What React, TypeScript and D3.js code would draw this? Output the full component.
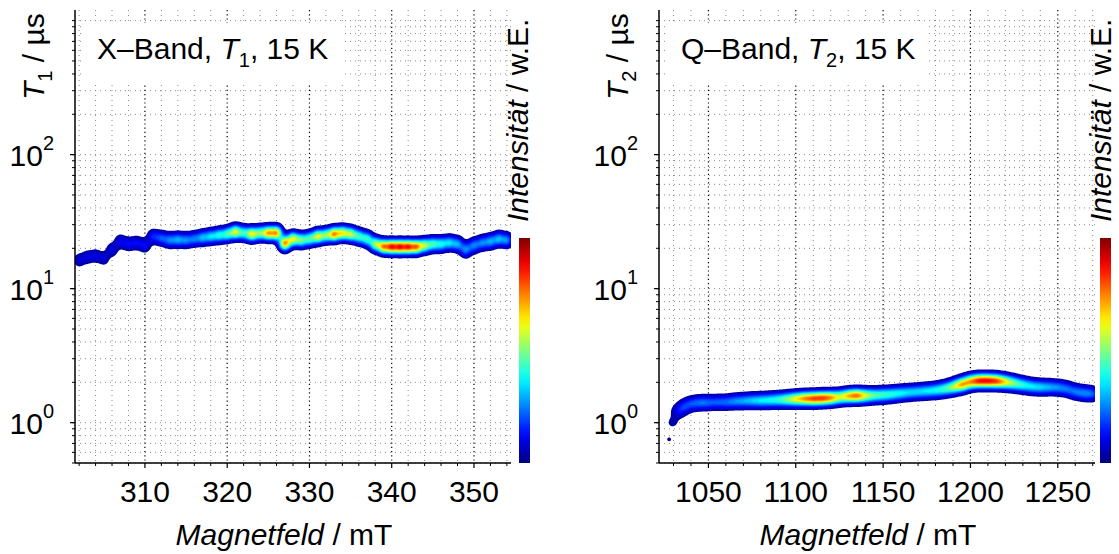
import React, { useMemo } from "react";
import * as d3 from "d3";

const FONT = "'Liberation Sans', Arial, Helvetica, sans-serif";
const W = 1119;
const H = 554;

// ---------- X-Band, T1 (left panel) ----------
const xBandField = [302, 303, 304, 305, 306, 307, 308, 309, 310, 311, 312, 313, 314, 315, 316, 317, 318, 319, 320, 321, 322, 323, 324, 325, 326, 327, 328, 329, 330, 331, 332, 333, 334, 335, 336, 337, 338, 339, 340, 341, 342, 343, 344, 345, 346, 347, 348, 349, 350, 351, 352, 353, 354];
const xBandT1 = [16.3, 17.2, 17.6, 16.8, 19.5, 22.5, 21.5, 22.0, 21.0, 24.5, 23.8, 23.0, 23.2, 23.0, 23.5, 24.0, 24.5, 25.0, 25.5, 26.5, 26.0, 25.5, 26.0, 26.0, 26.0, 21.8, 23.5, 23.0, 23.5, 24.5, 25.0, 25.5, 26.0, 25.5, 24.5, 23.5, 21.5, 20.6, 20.5, 20.5, 20.5, 20.5, 21.0, 21.5, 21.5, 22.0, 21.5, 19.5, 21.0, 22.0, 22.5, 23.5, 23.0];
const xBandIntensity = [0.12, 0.12, 0.12, 0.12, 0.14, 0.15, 0.15, 0.15, 0.16, 0.2, 0.25, 0.3, 0.34, 0.3, 0.28, 0.36, 0.4, 0.45, 0.5, 0.7, 0.45, 0.72, 0.55, 0.8, 0.85, 0.9, 0.7, 0.55, 0.5, 0.7, 0.55, 0.85, 0.7, 0.65, 0.5, 0.5, 0.62, 0.85, 0.97, 0.97, 0.95, 0.88, 0.62, 0.5, 0.45, 0.4, 0.36, 0.32, 0.3, 0.3, 0.34, 0.36, 0.32];
const xBandTicks = [310, 320, 330, 340, 350];

// ---------- Q-Band, T2 (right panel) ----------
const qBandField = [1027.5, 1029.5, 1032.5, 1035, 1038, 1042, 1046, 1050, 1055, 1060, 1065, 1070, 1075, 1080, 1085, 1090, 1095, 1100, 1105, 1110, 1115, 1120, 1125, 1130, 1135, 1140, 1145, 1150, 1155, 1160, 1165, 1170, 1175, 1180, 1185, 1190, 1195, 1200, 1205, 1210, 1215, 1220, 1225, 1230, 1235, 1240, 1245, 1250, 1255, 1260, 1265, 1270];
const qBandT2 = [0.75, 1.0, 1.2, 1.28, 1.36, 1.4, 1.41, 1.41, 1.42, 1.42, 1.44, 1.45, 1.46, 1.46, 1.47, 1.48, 1.49, 1.5, 1.51, 1.51, 1.52, 1.53, 1.55, 1.58, 1.59, 1.59, 1.6, 1.61, 1.63, 1.66, 1.68, 1.7, 1.72, 1.74, 1.78, 1.84, 1.92, 2.02, 2.05, 2.05, 2.04, 2.01, 1.96, 1.91, 1.86, 1.84, 1.84, 1.83, 1.79, 1.7, 1.66, 1.64];
const qBandIntensity = [0.065, 0.08, 0.12, 0.15, 0.18, 0.2, 0.22, 0.22, 0.25, 0.25, 0.3, 0.32, 0.36, 0.4, 0.42, 0.45, 0.55, 0.68, 0.8, 0.88, 0.9, 0.82, 0.6, 0.75, 0.88, 0.62, 0.5, 0.48, 0.45, 0.42, 0.38, 0.38, 0.4, 0.42, 0.48, 0.6, 0.85, 0.8, 0.95, 0.95, 0.9, 0.7, 0.55, 0.45, 0.4, 0.38, 0.33, 0.3, 0.28, 0.28, 0.3, 0.28];
const qBandTicks = [1050, 1100, 1150, 1200, 1250];

const yTickExponents = [0, 1, 2];

function jet(t: number): string {
  const c = (v: number) => Math.max(0, Math.min(1, v));
  const r = c(1.5 - Math.abs(4 * t - 3));
  const g = c(1.5 - Math.abs(4 * t - 2));
  const b = c(1.5 - Math.abs(4 * t - 1));
  return d3.rgb(r * 255, g * 255, b * 255).formatHex();
}

const yScale = d3.scaleLog().domain([0.5, 1200]).range([463, 10]);

type PanelProps = {
  id: string;
  xDomain: [number, number];
  xRange: [number, number];
  ticks: number[];
  minorStep: number;
  field: number[];
  tv: number[];
  inten: number[];
  sx: number;
  sy: number;
  band: string;
  sub: string;
  cbX: number;
  cbLabelX: number;
};

function Panel(p: PanelProps) {
  const xs = useMemo(() => d3.scaleLinear().domain(p.xDomain).range(p.xRange), [p.xDomain, p.xRange]);
  const ys = yScale;
  const [ax, ar] = p.xRange;
  const [yb, yt] = ys.range();

  const dens = useMemo(() => {
    const gx0 = Math.round(ax);
    const gw = Math.round(ar - ax);
    const pts = p.field.map((f, i) => ({ x: xs(f) - gx0, y: ys(p.tv[i]), w: p.inten[i] }));
    const gy0 = Math.floor((d3.min(pts, (q) => q.y) as number) - 30);
    const gy1 = Math.ceil((d3.max(pts, (q) => q.y) as number) + 30);
    const gh = gy1 - gy0;
    const grid = new Float64Array(gw * gh);
    for (const q of pts) {
      const cy = q.y - gy0;
      const j0 = Math.max(0, Math.floor(cy - 4 * p.sy));
      const j1 = Math.min(gh - 1, Math.ceil(cy + 4 * p.sy));
      const i0 = Math.max(0, Math.floor(q.x - 4 * p.sx));
      const i1 = Math.min(gw - 1, Math.ceil(q.x + 4 * p.sx));
      for (let j = j0; j <= j1; j++) {
        const dy = j + 0.5 - cy;
        const ey = Math.exp((-dy * dy) / (2 * p.sy * p.sy));
        for (let i = i0; i <= i1; i++) {
          const dx = i + 0.5 - q.x;
          grid[j * gw + i] += q.w * ey * Math.exp((-dx * dx) / (2 * p.sx * p.sx));
        }
      }
    }
    const gmax = d3.max(grid) as number;
    const k = ((d3.max(p.inten) as number) * 0.95) / gmax;
    const vals = Array.from(grid, (v) => v * k);
    const levels = d3.range(0.04, 1.0, 0.03);
    const cs = d3.contours().size([gw, gh]).thresholds(levels)(vals);
    return { cs, gx0, gy0 };
  }, [p.field, p.tv, p.inten, xs]);

  const path = d3.geoPath();

  const minorX = d3.range(Math.ceil(p.xDomain[0] / p.minorStep) * p.minorStep, p.xDomain[1], p.minorStep).filter(
    (v) => !p.ticks.some((t) => Math.abs(t - v) < 1e-6)
  );
  const yMinor: number[] = [];
  for (let e = -1; e <= 3; e++) {
    for (let m = 1; m <= 9; m++) {
      const v = m * Math.pow(10, e);
      if (v >= 0.5 && v <= 1200) yMinor.push(v);
    }
  }

  const gradId = `jet-${p.id}`;
  const stops = d3.range(0, 1.0001, 0.05);
  const cbTop = 238;
  const cbBottom = 463;
  const cbW = 11;
  const cx = (ax + ar) / 2 - 9;

  return (
    <g>
      <defs>
        <linearGradient id={gradId} x1="0" y1="1" x2="0" y2="0">
          {stops.map((s) => (
            <stop key={s} offset={`${s * 100}%`} stopColor={jet(s)} />
          ))}
        </linearGradient>
      </defs>
      {/* grid */}
      {yMinor.map((v) => (
        <line key={`gy${v}`} x1={ax} x2={ar} y1={ys(v)} y2={ys(v)} stroke="#8a8a8a" strokeWidth={1} strokeDasharray="1,4" />
      ))}
      {minorX.map((v) => (
        <line key={`gx${v}`} x1={xs(v)} x2={xs(v)} y1={yt} y2={yb} stroke="#8a8a8a" strokeWidth={1} strokeDasharray="1,4" />
      ))}
      {p.ticks.map((v) => (
        <line key={`gM${v}`} x1={xs(v)} x2={xs(v)} y1={yt} y2={yb} stroke="#000" strokeWidth={1.2} strokeDasharray="1.2,3" />
      ))}
      {/* density */}
      <g transform={`translate(${dens.gx0},${dens.gy0})`}>
        {dens.cs.map((c, i) => (
          <path key={i} d={path(c as any) || ""} fill={jet(c.value)} stroke="none" />
        ))}
      </g>
      {/* title box */}
      <rect x={ax + 10} y={23} width={258} height={61} fill="#fff" />
      <text x={ax + 22} y={59} fontSize={30} fontFamily={FONT}>
        {p.band}
        {"–Band, "}
        <tspan fontStyle="italic">T</tspan>
        <tspan fontSize={20} dy={8}>
          {p.sub}
        </tspan>
        <tspan dy={-8}>{", 15 K"}</tspan>
      </text>
      {/* axes */}
      <line x1={ax} x2={ax} y1={yt} y2={yb} stroke="#000" strokeWidth={1.5} />
      <line x1={ax} x2={ar} y1={yb} y2={yb} stroke="#000" strokeWidth={1.5} />
      {yMinor.map((v) => (
        <line key={`ty${v}`} x1={ax - 3} x2={ax} y1={ys(v)} y2={ys(v)} stroke="#000" strokeWidth={1} />
      ))}
      {yTickExponents.map((e) => (
        <line key={`tY${e}`} x1={ax - 5} x2={ax} y1={ys(Math.pow(10, e))} y2={ys(Math.pow(10, e))} stroke="#000" strokeWidth={1.2} />
      ))}
      {minorX.map((v) => (
        <line key={`tx${v}`} x1={xs(v)} x2={xs(v)} y1={yb} y2={yb + 3} stroke="#000" strokeWidth={1} />
      ))}
      {p.ticks.map((v) => (
        <line key={`tX${v}`} x1={xs(v)} x2={xs(v)} y1={yb} y2={yb + 5} stroke="#000" strokeWidth={1.2} />
      ))}
      {p.ticks.map((v) => (
        <text key={`lX${v}`} x={xs(v)} y={502} textAnchor="middle" fontSize={30} fontFamily={FONT}>
          {v}
        </text>
      ))}
      {yTickExponents.map((e) => (
        <text key={`lY${e}`} x={ax - 21} y={ys(Math.pow(10, e)) + 11} textAnchor="end" fontSize={30} fontFamily={FONT}>
          10
          <tspan fontSize={20} dy={-16}>
            {e}
          </tspan>
        </text>
      ))}
      {/* y label */}
      <text transform={`translate(${ax - 31},100) rotate(-90)`} fontSize={30} fontFamily={FONT}>
        <tspan fontStyle="italic">T</tspan>
        <tspan fontSize={20} dy={8}>
          {p.sub}
        </tspan>
        <tspan dy={-8}>{" / µs"}</tspan>
      </text>
      {/* x label */}
      <text x={cx} y={545} textAnchor="middle" fontSize={30} fontFamily={FONT}>
        <tspan fontStyle="italic">Magnetfeld</tspan>
        {" / mT"}
      </text>
      {/* colorbar */}
      <rect x={p.cbX} y={cbTop} width={cbW} height={cbBottom - cbTop} fill={`url(#${gradId})`} />
      <text transform={`translate(${p.cbLabelX},222) rotate(-90)`} fontSize={30} fontFamily={FONT}>
        <tspan fontStyle="italic">Intensität</tspan>
        {" / w.E."}
      </text>
    </g>
  );
}

const leftDomain: [number, number] = [301.5, 354.5];
const leftRange: [number, number] = [75, 511];
const rightDomain: [number, number] = [1021.7, 1271.3];
const rightRange: [number, number] = [659, 1095];

export default function App() {
  return (
    <svg
      width={W}
      height={H}
      viewBox={`0 0 ${W} ${H}`}
      style={{ position: "absolute", left: 0, top: 0, background: "#fff" }}
    >
      <rect x={0} y={0} width={W} height={H} fill="#fff" />
      <Panel
        id="x"
        xDomain={leftDomain}
        xRange={leftRange}
        ticks={xBandTicks}
        minorStep={2}
        field={xBandField}
        tv={xBandT1}
        inten={xBandIntensity}
        sx={3.8}
        sy={4.6}
        band="X"
        sub="1"
        cbX={519}
        cbLabelX={528}
      />
      <Panel
        id="q"
        xDomain={rightDomain}
        xRange={rightRange}
        ticks={qBandTicks}
        minorStep={10}
        field={qBandField}
        tv={qBandT2}
        inten={qBandIntensity}
        sx={5}
        sy={4.6}
        band="Q"
        sub="2"
        cbX={1100}
        cbLabelX={1111}
      />
    </svg>
  );
}
